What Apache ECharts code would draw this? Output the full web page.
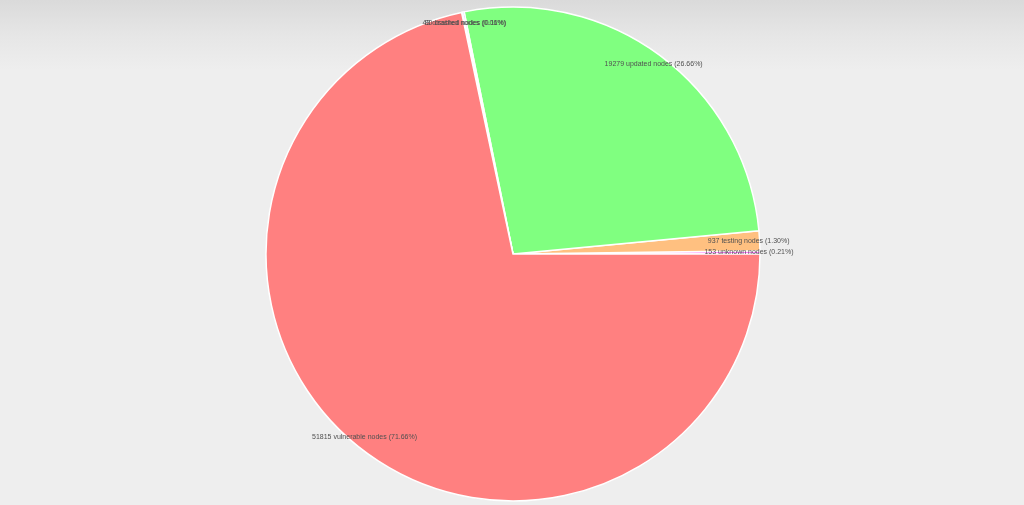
<!DOCTYPE html>
<html>
<head>
<meta charset="utf-8">
<script src="https://cdn.jsdelivr.net/npm/echarts@6/dist/echarts.min.js"></script>
<style>
html,body{margin:0;padding:0;width:1024px;height:505px;overflow:hidden;}
#chart{width:1024px;height:505px;background:linear-gradient(#dadada 0px,#e6e6e6 35px,#eeeeee 70px,#eeeeee 505px);}
</style>
</head>
<body>
<div id="chart"></div>
<script>
const categories = ['unknown', 'testing', 'updated', 'crashed', 'disabled', 'vulnerable'];
const values = [153, 937, 19279, 80, 43, 51815];
const colors = ['#ff80ff', '#ffc080', '#80ff80', '#8080ff', '#c0c0c0', '#ff8080'];

const total = values.reduce((a, b) => a + b, 0);
const data = categories.map((c, i) => ({
  name: c,
  value: values[i],
  itemStyle: { color: colors[i] }
}));
const labelData = categories.map((c, i) => ({ name: c, value: values[i] }));

const chart = echarts.init(document.getElementById('chart'));
chart.setOption({
  animation: false,
  series: [
    {
      type: 'pie',
      center: [513, 254],
      radius: [0, 247],
      startAngle: 0,
      clockwise: false,
      minAngle: 0,
      avoidLabelOverlap: false,
      label: { show: false },
      labelLine: { show: false },
      itemStyle: { borderColor: '#ffffff', borderWidth: 1.5 },
      emphasis: { disabled: true },
      data: data
    },
    {
      type: 'pie',
      silent: true,
      center: [513, 254],
      radius: [0, 466],
      startAngle: 0,
      clockwise: false,
      avoidLabelOverlap: false,
      labelLayout: { hideOverlap: false },
      itemStyle: { color: 'rgba(0,0,0,0)', borderWidth: 0 },
      labelLine: { show: false },
      label: {
        show: true,
        position: 'inside',
        fontFamily: 'Liberation Sans',
        fontSize: 7,
        color: '#505050',
        formatter: p => p.value + ' ' + p.name + ' nodes (' + (p.value / total * 100).toFixed(2) + '%)'
      },
      emphasis: { disabled: true },
      data: labelData
    }
  ]
});
</script>
</body>
</html>
